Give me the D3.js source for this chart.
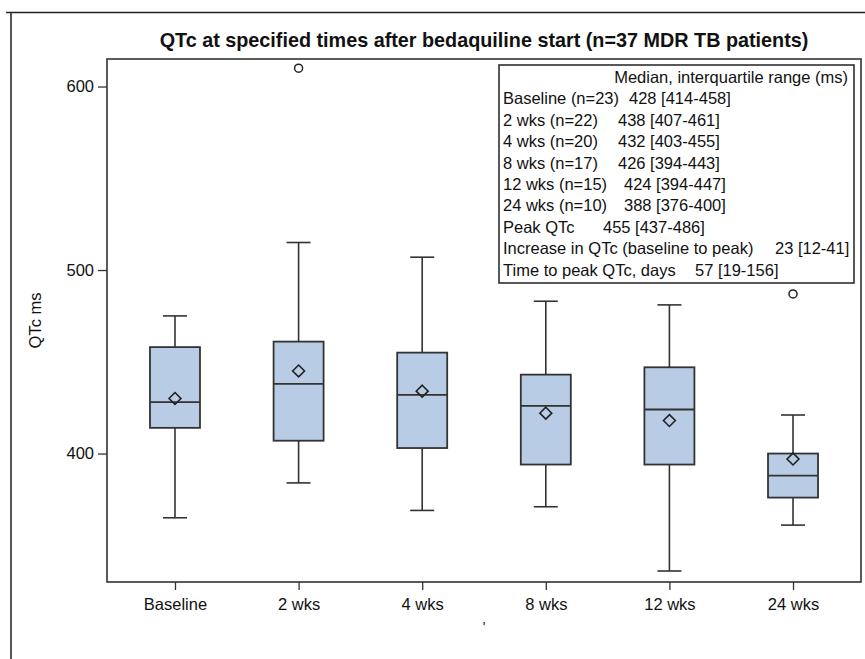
<!DOCTYPE html>
<html>
<head>
<meta charset="utf-8">
<script src="https://cdn.jsdelivr.net/npm/d3@7"></script>
<style>
  body { margin: 0; background: #fff; }
  svg text { font-family: "Liberation Sans", Arial, sans-serif; fill: #111; }
</style>
</head>
<body>
<div id="chart"></div>
<script>
// данные по группам
const categories = ['Baseline', '2 wks', '4 wks', '8 wks', '12 wks', '24 wks']
const q1 = [414, 407, 403, 394, 394, 376]
const median = [428, 438, 432, 426, 424, 388]
const q3 = [458, 461, 455, 443, 447, 400]
const whiskLo = [365, 384, 369, 371, 336, 361]
const whiskHi = [475, 515, 507, 483, 481, 421]
const means = [430, 445, 434, 422, 418, 397]
const outlierCat = ['2 wks', '24 wks']
const outlierVal = [610, 487]
const yTicks = [400, 500, 600]

// текст легенды
const legendHead = 'Median, interquartile range (ms)'
const legendLabels = ['Baseline (n=23)', '2 wks (n=22)', '4 wks (n=20)', '8 wks (n=17)', '12 wks (n=15)',
  '24 wks (n=10)', 'Peak QTc', 'Increase in QTc (baseline to peak)', 'Time to peak QTc, days']
const legendValues = ['428 [414-458]', '438 [407-461]', '432 [403-455]', '426 [394-443]', '424 [394-447]',
  '388 [376-400]', '455 [437-486]', '23 [12-41]', '57 [19-156]']
const legendValX = [629, 618, 618, 618, 624, 624, 603, 775, 695]

const W = 865, H = 659
const L = 107, R = 861, T = 59, B = 582

let svg = d3.select('#chart').append('svg')
  .attr('width', W)
  .attr('height', H)

// внешняя рамка (только верх и лево видны)
svg.append('path')
  .attr('d', `M6,12.5 H865 M11,12.5 V659`)
  .attr('stroke', '#222').attr('stroke-width', 1.5).attr('fill', 'none')

let x = d3.scalePoint().domain(categories).range([L, R]).padding(0.55)
let y = d3.scaleLinear().domain([330, 615]).range([B, T])

// заголовок
svg.append('text')
  .attr('x', (L + R) / 2).attr('y', 47)
  .attr('text-anchor', 'middle')
  .style('font-size', '19.8px').style('font-weight', 'bold')
  .text('QTc at specified times after bedaquiline start (n=37 MDR TB patients)')

// оси
let yAxis = svg.append('g')
  .attr('transform', `translate(${L},0)`)
  .call(d3.axisLeft(y).tickValues(yTicks).tickSize(9).tickPadding(4))
yAxis.select('.domain').remove()
yAxis.selectAll('text').style('font-size', '16.5px')
yAxis.selectAll('line').attr('stroke', '#333').attr('stroke-width', 1.3)

let xAxis = svg.append('g')
  .attr('transform', `translate(0,${B})`)
  .call(d3.axisBottom(x).tickSize(8).tickPadding(8))
xAxis.select('.domain').remove()
xAxis.selectAll('text').style('font-size', '16.5px')
xAxis.selectAll('line').attr('stroke', '#333').attr('stroke-width', 1.3)

svg.append('text')
  .attr('transform', `translate(41,${(T + B) / 2}) rotate(-90)`)
  .attr('text-anchor', 'middle')
  .style('font-size', '16.5px')
  .text('QTc ms')

// пустая подпись оси X (в оригинале видна только точка)
svg.append('text')
  .attr('x', 484).attr('y', 632)
  .attr('text-anchor', 'middle')
  .style('font-size', '14px')
  .text("'")

// рамка графика
svg.append('rect')
  .attr('x', L).attr('y', T).attr('width', R - L).attr('height', B - T)
  .attr('fill', 'none').attr('stroke', '#333').attr('stroke-width', 1.6)

const boxW = 50, capW = 24
let g = svg.append('g')
for (let i = 0; i < categories.length; i++) {
  let cx = x(categories[i])
  // усы
  g.append('line')
    .attr('x1', cx).attr('x2', cx).attr('y1', y(whiskHi[i])).attr('y2', y(q3[i]))
    .attr('stroke', '#333').attr('stroke-width', 1.6)
  g.append('line')
    .attr('x1', cx).attr('x2', cx).attr('y1', y(q1[i])).attr('y2', y(whiskLo[i]))
    .attr('stroke', '#333').attr('stroke-width', 1.6)
  g.append('line')
    .attr('x1', cx - capW / 2).attr('x2', cx + capW / 2).attr('y1', y(whiskHi[i])).attr('y2', y(whiskHi[i]))
    .attr('stroke', '#333').attr('stroke-width', 1.6)
  g.append('line')
    .attr('x1', cx - capW / 2).attr('x2', cx + capW / 2).attr('y1', y(whiskLo[i])).attr('y2', y(whiskLo[i]))
    .attr('stroke', '#333').attr('stroke-width', 1.6)
  // коробка
  g.append('rect')
    .attr('x', cx - boxW / 2).attr('y', y(q3[i]))
    .attr('width', boxW).attr('height', y(q1[i]) - y(q3[i]))
    .attr('fill', '#b8cce6').attr('stroke', '#333').attr('stroke-width', 1.8)
  g.append('line')
    .attr('x1', cx - boxW / 2).attr('x2', cx + boxW / 2).attr('y1', y(median[i])).attr('y2', y(median[i]))
    .attr('stroke', '#333').attr('stroke-width', 1.8)
  // среднее - ромб
  g.append('path')
    .attr('d', d3.symbol(d3.symbolDiamond2, 90)())
    .attr('transform', `translate(${cx},${y(means[i])})`)
    .attr('fill', 'none').attr('stroke', '#222').attr('stroke-width', 1.6)
}

// выбросы
for (let i = 0; i < outlierCat.length; i++) {
  g.append('circle')
    .attr('cx', x(outlierCat[i])).attr('cy', y(outlierVal[i]))
    .attr('r', 4).attr('fill', '#fff').attr('stroke', '#222').attr('stroke-width', 1.5)
}

// легенда-таблица
let lg = svg.append('g')
lg.append('rect')
  .attr('x', 499).attr('y', 65).attr('width', 355).attr('height', 218)
  .attr('fill', '#fff').attr('stroke', '#222').attr('stroke-width', 1.5)
lg.append('text')
  .attr('x', 848).attr('y', 83)
  .attr('text-anchor', 'end')
  .style('font-size', '16.5px')
  .text(legendHead)
for (let i = 0; i < legendLabels.length; i++) {
  let yy = 83 + 21.4 * (i + 1)
  lg.append('text').attr('x', 503).attr('y', yy).style('font-size', '16.5px').text(legendLabels[i])
  lg.append('text').attr('x', legendValX[i]).attr('y', yy).style('font-size', '16.5px').text(legendValues[i])
}
</script>
</body>
</html>
